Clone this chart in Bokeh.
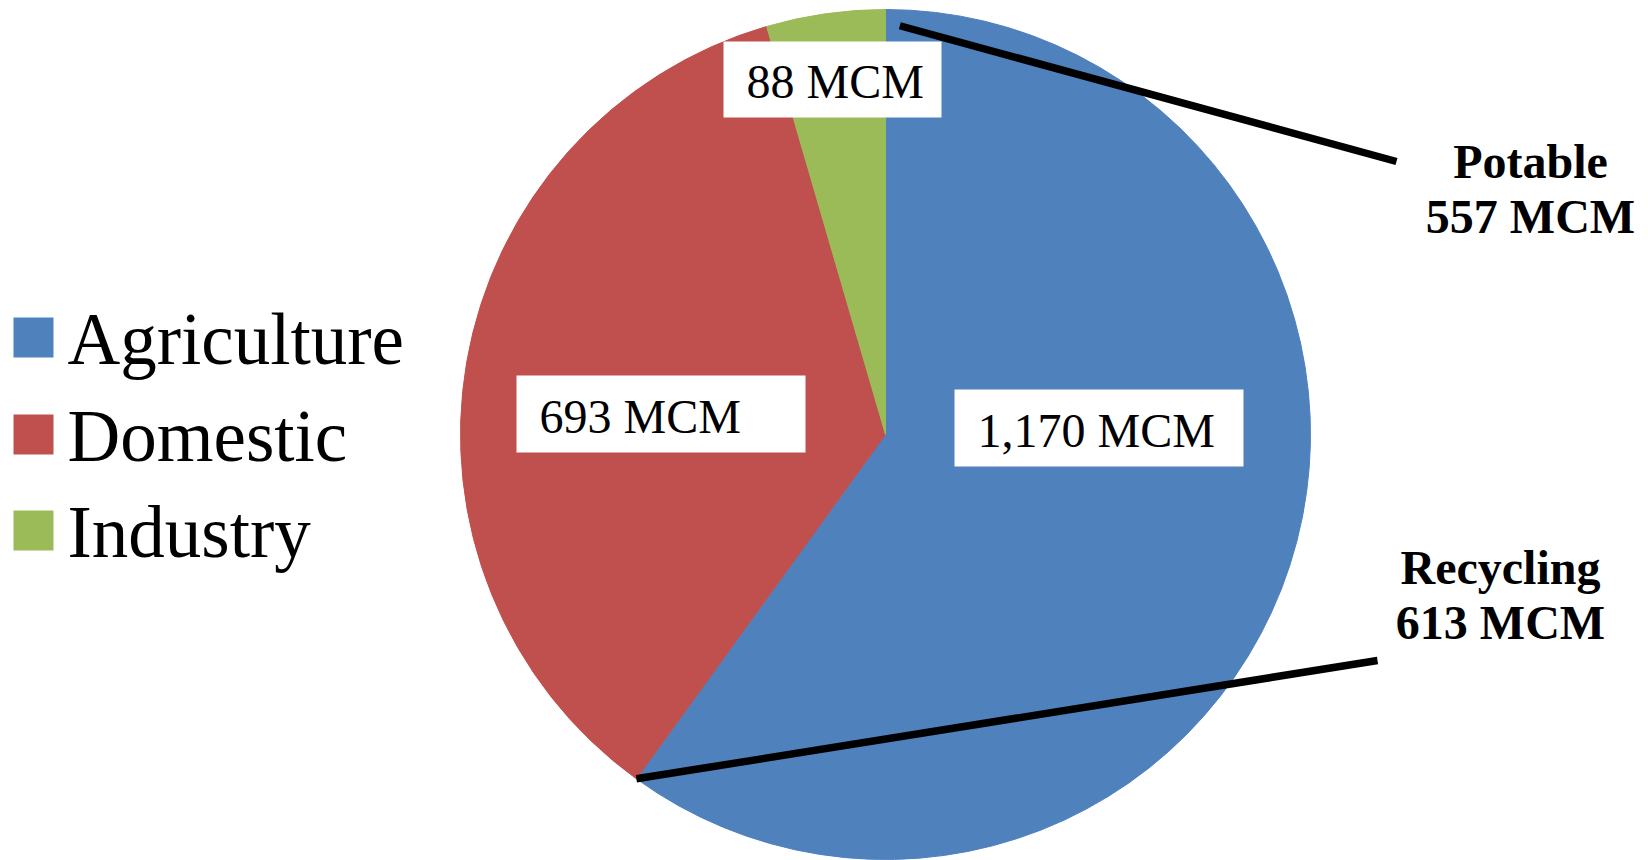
import math
from bokeh.plotting import figure
from bokeh.models import Range1d, ColumnDataSource
from bokeh.core.properties import value
from bokeh.embed import file_html
from bokeh.resources import INLINE

# ---- data ----
categories = ["Agriculture", "Domestic", "Industry"]
volumes = [1170, 693, 88]
colors = ["#4F81BD", "#C0504D", "#9BBB59"]
slice_labels = ["1,170 MCM", "693 MCM", "88 MCM"]
callout_titles = ["Potable", "Recycling"]
callout_values = ["557 MCM", "613 MCM"]

W, H = 1648, 860
FONT = "Liberation Serif"

def Y(py):
    return H - py

p = figure(width=W, height=H, output_backend="svg", toolbar_location=None,
           x_range=Range1d(0, W), y_range=Range1d(0, H), min_border=0)
p.axis.visible = False
p.grid.visible = False
p.outline_line_color = None
p.background_fill_color = "white"
p.border_fill_color = "white"

# ---- pie ----
cx, cy, r = 885, Y(434), 425
total = float(sum(volumes))
starts, ends = [], []
a = math.pi / 2
for v in volumes:
    starts.append(a)
    a = a - v / total * 2 * math.pi
    ends.append(a)
src = ColumnDataSource(dict(x=[cx] * 3, y=[cy] * 3, start=starts, end=ends,
                            color=colors, name=categories))
p.wedge(x="x", y="y", radius=r, start_angle="start", end_angle="end",
        direction="clock", fill_color="color", line_color="color", line_width=1,
        source=src)

# ---- slice label boxes ----
box_cx = [1098.5, 660.5, 832]
box_cy = [427.5, 413.5, 79]
box_w = [289, 289, 218]
box_h = [77, 77, 76]
p.rect(x=box_cx, y=[Y(v) for v in box_cy], width=box_w, height=box_h,
       fill_color="white", line_color=None)
text_x = [bx - bw / 2 + 23 for bx, bw in zip(box_cx, box_w)]
text_y = [Y(bc + bh / 2 - 20 - 16) for bc, bh in zip(box_cy, box_h)]
p.text(x=text_x, y=text_y, text=slice_labels, text_font=value(FONT),
       text_font_size="48px", text_color="black", text_align="left",
       text_baseline="alphabetic")

# ---- leader lines ----
pot_start_ang = starts[0] - 0.035
pot_sx = cx + (r - 16) * math.cos(pot_start_ang)
pot_sy = cy + (r - 16) * math.sin(pot_start_ang)
p.line(x=[pot_sx, 1396], y=[pot_sy, Y(161)], line_color="black", line_width=7.5)
rec_sx = cx + r * math.cos(ends[0])
rec_sy = cy + r * math.sin(ends[0])
p.line(x=[rec_sx, 1377], y=[rec_sy, Y(660)], line_color="black", line_width=7.5)

# ---- callout texts ----
p.text(x=[1530, 1530], y=[Y(177 - 16), Y(232 - 16)], text=[callout_titles[0], callout_values[0]],
       text_font=value(FONT), text_font_size="48px", text_font_style="bold",
       text_color="black", text_align="center", text_baseline="alphabetic")
p.text(x=[1500, 1500], y=[Y(583 - 16), Y(638 - 16)], text=[callout_titles[1], callout_values[1]],
       text_font=value(FONT), text_font_size="48px", text_font_style="bold",
       text_color="black", text_align="center", text_baseline="alphabetic")

# ---- legend ----
leg_y = [363, 460, 556]
p.rect(x=[33] * 3, y=[Y(v - 26) for v in leg_y], width=40, height=40,
       fill_color=colors, line_color=None)
p.text(x=[67] * 3, y=[Y(v - 24) for v in leg_y], text=categories,
       text_font=value(FONT), text_font_size="73px", text_color="black",
       text_align="left", text_baseline="alphabetic")

open("out.html", "w").write(file_html(p, INLINE))
